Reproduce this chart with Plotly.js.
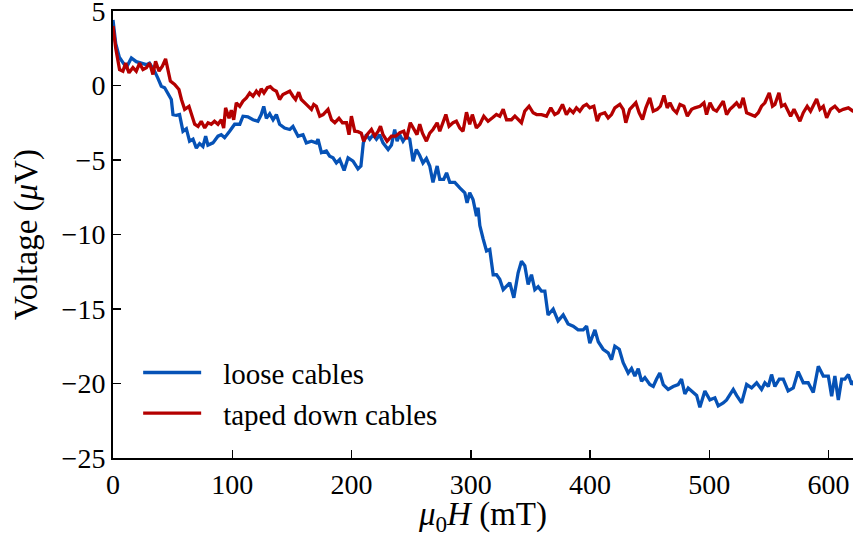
<!DOCTYPE html>
<html>
<head>
<meta charset="utf-8">
<script src="https://cdn.plot.ly/plotly-3.0.1.min.js"></script>
<style>html,body{margin:0;padding:0;background:#fff;}#chart{width:853px;height:537px;}</style>
</head>
<body>
<div id="chart"></div>
<script>
// loose cables (blue)
const looseX = [0,2.3,5.3,8.3,11.2,15.4,19.5,23.7,28.0,30.6,34.9,37.6,40.5,43.3,46.0,48.9,50.3,53.1,55.8,58.7,61.5,64.2,67.1,69.9,72.6,75.4,77.7,79.6,83.8,88.0,90.8,93.6,97.8,102.0,106.3,109.0,113.1,117.4,121.5,124.3,126.4,128.6,131.4,134.2,137.0,139.7,143.9,148.2,150.9,155.2,159.3,162.1,166.4,170.5,171.9,174.8,178.9,181.7,184.5,187.3,190.1,193.8,197.1,201.3,205.4,207.9,209.9,212.5,215.3,218.1,220.9,223.6,226.4,230.7,233.5,236.2,238.2,240.4,243.2,246.0,248.8,251.6,254.4,257.2,259.9,262.8,265.6,268.3,271.8,274.0,277.3,279.7,282.4,286.6,290.8,295.0,296.9,299.1,301.9,304.8,306.1,307.6,310.4,313.2,315.9,318.8,321.6,324.3,327.2,330.0,332.7,336.1,339.7,342.5,345.3,348.1,350.9,353.7,356.5,359.3,362.1,364.8,369.1,373.2,377.5,381.6,385.9,390.0,394.3,397.1,399.8,404.1,406.9,411.0,415.2,418.0,420.8,424.5,427.8,432.0,434.8,437.6,440.4,443.2,446.0,450.1,453.0,455.8,458.5,461.4,465.5,469.7,473.9,476.7,479.5,482.3,486.5,489.4,492.1,496.3,500.5,504.7,507.5,511.7,514.5,520.1,522.9,527.1,531.3,535.5,539.7,543.8,546.6,549.5,552.2,555.0,558.7,562.0,566.1,570.4,574.5,578.8,582.9,587.2,591.4,595.6,599.8,602.6,605.3,608.2,611.0,613.7,616.6,619.4,621.7];
const looseY = [4.4,2.8,1.9,1.5,1.2,1.85,1.6,1.5,1.4,1.5,0.96,0.5,-0.05,-0.15,-0.5,-0.94,-1.95,-2.0,-1.95,-3.07,-2.9,-3.74,-3.6,-4.2,-3.9,-4.1,-3.4,-4.0,-3.85,-3.4,-3.3,-3.5,-3.07,-2.6,-2.6,-2.06,-2.1,-2.3,-2.4,-1.95,-1.4,-2.2,-1.9,-2.3,-1.95,-2.6,-2.85,-2.95,-2.75,-3.4,-3.3,-3.85,-3.74,-3.85,-3.6,-4.5,-4.4,-4.74,-4.85,-5.2,-4.97,-5.7,-4.85,-5.08,-5.6,-5.4,-3.85,-3.3,-3.6,-3.3,-3.6,-3.3,-3.85,-4.3,-4.0,-2.95,-3.74,-3.3,-3.74,-3.4,-3.6,-5.08,-4.3,-4.7,-5.2,-4.9,-5.4,-6.5,-5.4,-6.3,-6.3,-5.86,-6.5,-6.5,-6.87,-7.2,-7.87,-7.2,-7.65,-8.77,-8.2,-9.4,-10.3,-11.1,-11.0,-12.7,-12.7,-13.0,-13.7,-13.5,-13.24,-14.25,-12.57,-11.8,-12.1,-13.36,-12.7,-13.7,-13.5,-13.8,-13.8,-15.4,-15.0,-15.8,-15.4,-16.0,-16.15,-16.4,-16.4,-16.15,-17.3,-16.4,-17.2,-17.7,-17.94,-18.4,-17.5,-17.7,-18.6,-19.3,-19.0,-19.5,-19.0,-19.85,-19.6,-20.07,-20.2,-19.7,-19.3,-20.07,-20.4,-20.2,-20.07,-19.7,-20.7,-20.3,-20.6,-20.8,-21.6,-20.5,-21.1,-20.96,-21.5,-21.3,-21.1,-20.4,-20.8,-21.3,-20.07,-20.3,-19.95,-20.4,-19.95,-20.2,-19.4,-20.2,-19.7,-19.7,-20.5,-20.3,-19.2,-19.95,-19.95,-20.6,-18.84,-19.5,-19.5,-20.85,-19.5,-21.1,-19.7,-19.7,-19.4,-20.07,-19.8];

// taped down cables (red)
const tapedX = [0,2.3,5.5,8.3,10.6,13.4,16.7,19.5,22.3,25.1,28.0,30.7,33.5,35.7,38.6,41.4,44.1,46.0,48.1,51.7,55.3,57.4,60.1,63.7,66.5,68.5,71.3,74.0,76.9,79.7,82.4,85.1,88.0,90.8,92.8,94.4,97.3,99.2,101.2,103.4,106.3,109.0,111.8,114.6,117.4,120.2,122.4,124.3,126.6,129.4,131.9,134.2,137.0,139.7,142.5,145.4,148.2,150.9,153.1,155.7,157.9,162.1,166.4,168.3,170.5,173.4,176.2,180.3,183.2,186.0,189.5,192.4,195.8,197.9,199.9,202.7,205.4,208.2,210.2,213.0,216.7,219.5,222.4,224.3,226.4,229.8,233.5,237.1,240.5,243.8,246.0,249.3,252.1,254.9,257.2,259.5,262.8,265.6,268.3,271.8,274.0,276.8,279.1,281.8,285.1,287.9,290.8,293.5,296.4,299.1,301.3,304.7,307.6,310.9,314.5,318.2,321.5,324.3,327.2,330.0,334.1,337.0,339.8,342.5,345.3,348.9,352.3,355.2,359.3,363.5,367.1,370.4,373.2,376.9,380.2,383.0,385.9,388.6,391.4,394.3,397.1,399.8,403.2,406.0,408.2,412.4,415.2,418.0,420.8,425.0,427.8,430.0,433.3,436.2,438.4,441.2,444.0,446.8,450.1,453.0,456.3,459.0,462.0,464.7,467.0,469.7,472.6,475.4,478.7,481.6,485.2,487.9,492.2,495.5,497.7,500.6,503.4,506.1,508.9,511.7,514.5,517.3,520.1,522.9,525.7,528.4,531.3,534.6,538.3,541.1,543.8,546.6,550.3,553.0,555.0,558.4,560.6,563.4,565.3,568.2,571.0,573.1,576.0,578.8,582.1,584.9,587.2,590.0,592.8,595.6,598.4,601.7,605.3,609.0,612.3,616.6,620.5,623.7];
const tapedY = [4.0,2.5,1.07,0.96,1.5,0.85,1.2,0.96,1.5,1.07,1.2,1.5,0.74,1.63,0.96,1.3,1.79,1.07,0.29,0.07,-0.27,-0.94,-1.6,-1.4,-2.06,-2.6,-2.75,-2.4,-2.85,-2.5,-2.6,-2.4,-2.6,-2.3,-2.85,-1.5,-2.2,-1.65,-2.3,-1.16,-1.4,-1.05,-0.83,-0.5,-0.72,-0.38,-0.6,-0.22,-0.5,-0.15,-0.08,-0.27,-0.38,-0.94,-0.6,-0.5,-0.38,-0.72,-0.94,-0.45,-0.94,-1.27,-1.6,-1.27,-1.4,-2.06,-1.95,-1.6,-2.3,-2.5,-2.2,-2.5,-2.5,-3.3,-2.06,-3.07,-3.1,-3.2,-3.74,-3.3,-2.95,-3.4,-3.07,-2.73,-3.3,-3.74,-3.4,-3.4,-3.17,-3.07,-3.6,-2.5,-2.95,-3.3,-2.6,-3.2,-3.74,-3.2,-2.95,-2.5,-3.07,-2.5,-1.95,-2.73,-2.5,-2.4,-2.85,-3.07,-1.79,-2.6,-1.95,-2.85,-2.6,-2.06,-2.4,-2.17,-1.95,-2.06,-1.6,-2.3,-2.3,-2.06,-2.3,-2.5,-1.72,-1.39,-1.83,-1.95,-1.95,-2.06,-1.5,-1.95,-1.83,-1.27,-1.95,-1.6,-1.83,-1.5,-1.72,-1.39,-1.27,-1.5,-1.39,-2.4,-1.95,-1.83,-2.17,-1.95,-1.5,-1.27,-1.6,-2.5,-1.6,-1.39,-1.16,-1.83,-2.28,-1.5,-0.83,-1.72,-1.6,-1.39,-0.67,-1.5,-1.16,-1.6,-1.83,-1.27,-1.39,-2.06,-1.6,-1.5,-1.39,-1.16,-1.95,-1.16,-1.6,-1.72,-1.39,-1.05,-1.95,-1.6,-1.39,-1.16,-1.5,-0.83,-1.83,-1.95,-2.06,-1.83,-1.39,-1.16,-0.49,-1.39,-1.27,-0.49,-1.39,-1.27,-1.6,-2.06,-1.6,-1.95,-2.4,-1.83,-1.39,-1.72,-1.39,-0.9,-1.6,-1.39,-2.17,-1.6,-1.39,-1.72,-1.6,-1.5,-1.72,-1.8];

const seriesNames = ['loose cables', 'taped down cables'];
const seriesColors = ['#0652b6', '#b40000'];
const xTicks = [0, 100, 200, 300, 400, 500, 600];
const yTicks = [-25, -20, -15, -10, -5, 0, 5];

const FONT = '"Liberation Serif", "Times New Roman", serif';

const traces = [
  {x: looseX, y: looseY, name: seriesNames[0], type: 'scatter', mode: 'lines',
   line: {color: seriesColors[0], width: 3.3}},
  {x: tapedX, y: tapedY, name: seriesNames[1], type: 'scatter', mode: 'lines',
   line: {color: seriesColors[1], width: 3.3}}
];

const layout = {
  width: 853, height: 537,
  margin: {l: 113, r: 0, t: 11, b: 79, pad: 0},
  paper_bgcolor: '#fff', plot_bgcolor: '#fff',
  font: {family: FONT, size: 28, color: '#000'},
  showlegend: true,
  legend: {x: 0.034, y: 0.248, xanchor: 'left', yanchor: 'top',
           bgcolor: 'rgba(0,0,0,0)', borderwidth: 0,
           font: {family: FONT, size: 29, color: '#000'},
           itemwidth: 75, tracegroupgap: 0},
  xaxis: {
    range: [0, 620.5], tickvals: xTicks, ticktext: xTicks.map(String),
    ticks: 'inside', ticklen: 8, tickwidth: 1.5, tickcolor: '#000',
    ticklabeloverflow: 'allow',
    showline: true, linewidth: 2, linecolor: '#000', mirror: true,
    showgrid: false, zeroline: false,
    tickfont: {family: FONT, size: 28, color: '#000'},
    title: {text: '<i>μ</i><sub>0</sub><i>H</i> (mT)', font: {family: FONT, size: 33, color: '#000'}, standoff: 5}
  },
  yaxis: {
    range: [-25, 5], tickvals: yTicks,
    ticks: 'inside', ticklen: 8, tickwidth: 1.5, tickcolor: '#000',
    ticklabeloverflow: 'allow',
    showline: true, linewidth: 2, linecolor: '#000', mirror: false,
    showgrid: false, zeroline: false,
    tickfont: {family: FONT, size: 28, color: '#000'},
    title: {text: 'Voltage (<i>μ</i>V)', font: {family: FONT, size: 33, color: '#000'}, standoff: 14}
  }
};

Plotly.newPlot('chart', traces, layout, {displayModeBar: false, staticPlot: true}).then(function(gd){
  // lengthen the legend line samples to match the reference
  gd.querySelectorAll('.legend .legendlines path').forEach(function(p){ p.setAttribute('d', 'M5,0h58'); p.style.strokeWidth = '3.3px'; });
});
</script>
</body>
</html>
